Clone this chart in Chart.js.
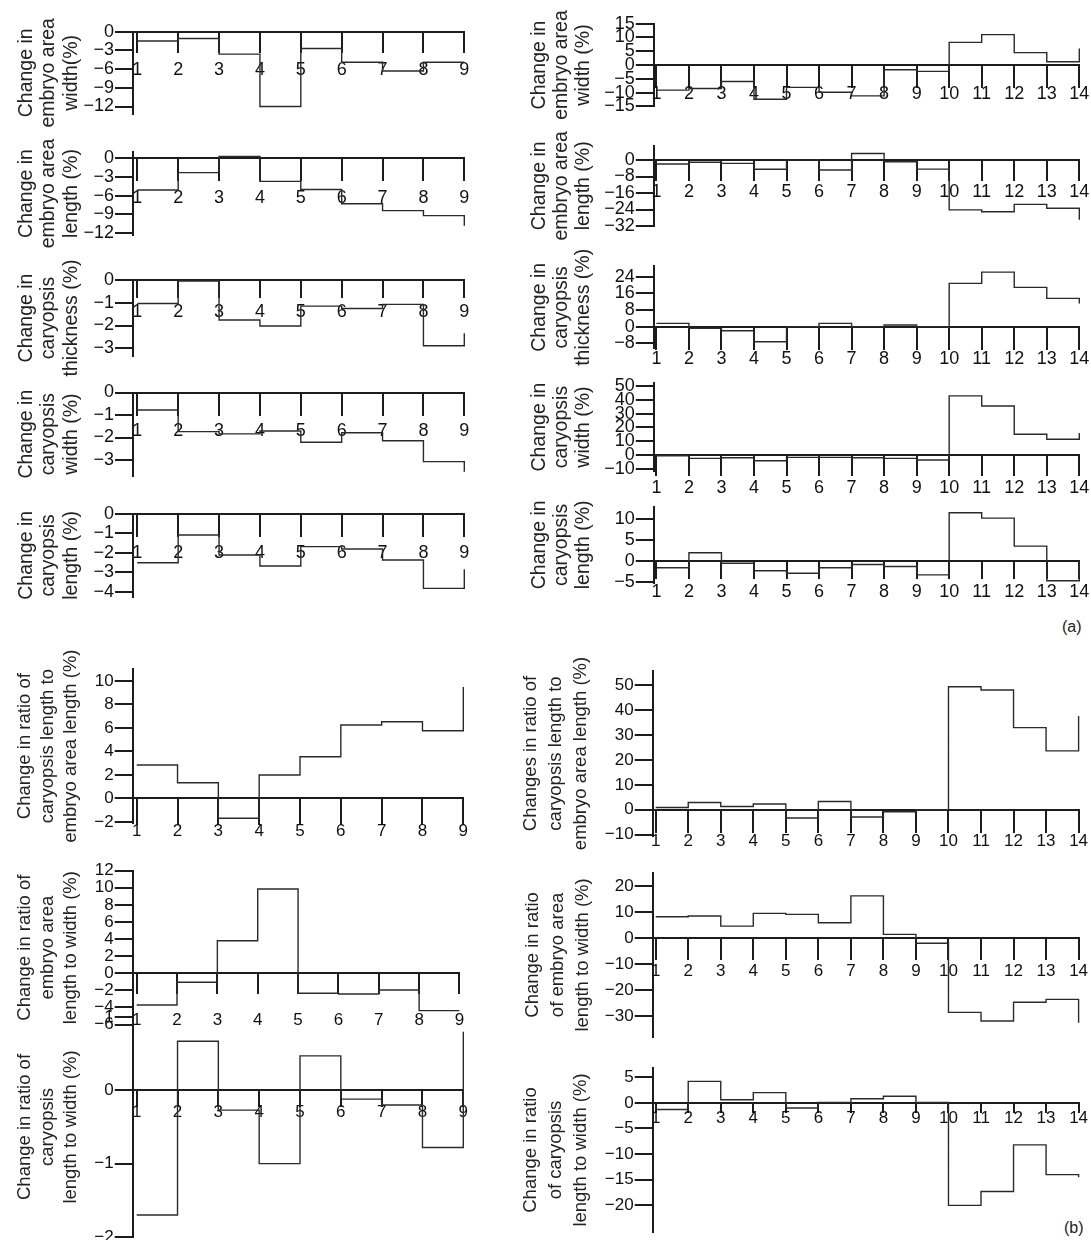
<!DOCTYPE html>
<html>
<head>
<meta charset="utf-8">
<script src="https://cdn.jsdelivr.net/npm/chart.js@4.4.1/dist/chart.umd.min.js"></script>
<style>
  html, body { margin: 0; padding: 0; background: #fff; overflow: hidden; }
  body { position: relative; width: 1091px; height: 1240px; font-family: "Liberation Sans", Arial, sans-serif; }
  canvas { position: absolute; }
  .tag { position: absolute; font-size: 16px; color: #222; }
</style>
</head>
<body>
<div class="tag" style="left:1062px;top:618px">(a)</div>
<div class="tag" style="left:1064px;top:1219px">(b)</div>
<script>
// stage numbers on the x axes
const stagesA = [1, 2, 3, 4, 5, 6, 7, 8, 9];
const stagesB = [1, 2, 3, 4, 5, 6, 7, 8, 9, 10, 11, 12, 13, 14];

// (a) left column, value held from stage i to i+1, last value = end of line
const embryoWidthA = [-1.5, -1.1, -3.6, -12.0, -2.7, -4.9, -6.3, -4.9, -4.9];
const embryoLengthA = [-5.1, -2.3, 0.3, -3.7, -5.0, -7.3, -8.4, -9.2, -10.8];
const thicknessA = [-1.03, -0.05, -1.76, -2.02, -1.15, -1.25, -1.07, -2.89, -2.34];
const widthA = [-0.78, -1.74, -1.84, -1.71, -2.21, -1.79, -2.14, -3.07, -3.52];
const lengthA = [-2.51, -1.08, -2.11, -2.68, -1.68, -1.8, -2.37, -3.83, -2.85];

// (a) right column
const embryoWidthB = [-9.1, -8.5, -6.0, -12.4, -8.1, -9.9, -11.2, -1.7, -2.3, 8.2, 11.0, 4.5, 1.2, 6.0];
const embryoLengthB = [-1.9, -1.1, -1.6, -4.5, 0, -4.8, 3.2, -0.8, -4.4, -24.2, -25.1, -21.5, -23.4, -29.0];
const thicknessB = [1.6, -0.8, -1.9, -7.2, 0, 1.6, 0, 0.8, 0, 20.8, 26.2, 18.9, 13.6, 11.2];
const widthB = [-0.5, -2.4, -2.0, -4.1, -1.7, -1.7, -2.0, -2.4, -3.6, 42.8, 35.5, 15.0, 11.4, 16.0];
const lengthB = [-1.7, 1.9, -0.6, -2.4, -3.0, -1.7, -0.9, -1.4, -3.4, 11.5, 10.2, 3.5, -4.8, 0];

// (b) ratios
const ratioLenEmbryoA = [2.84, 1.33, -1.7, 1.99, 3.55, 6.25, 6.53, 5.76, 9.5];
const ratioEmbryoLWA = [-3.7, -1.05, 3.8, 9.86, -2.34, -2.42, -1.95, -4.37, -4.37];
const ratioCaryLWA = [-1.7, 0.67, -0.27, -1.0, 0.47, -0.12, -0.2, -0.78, 0.8];
const ratioLenEmbryoB = [0.9, 2.9, 1.3, 2.3, -3.3, 3.3, -2.9, -0.8, 0, 49.3, 48.0, 32.9, 23.6, 37.6];
const ratioEmbryoLWB = [8.3, 8.6, 4.7, 9.6, 9.2, 6.0, 16.3, 1.5, -1.9, -28.5, -31.8, -24.6, -23.5, -32.5];
const ratioCaryLWB = [-1.3, 4.2, 0.6, 2.0, -1.0, 0.1, 0.8, 1.3, 0.1, -20.0, -17.3, -8.2, -14.0, -14.5];

// y tick labels
const ticksThree = [0, -3, -6, -9, -12];
const ticksOne3 = [0, -1, -2, -3];
const ticksOne4 = [0, -1, -2, -3, -4];
const ticksFifteen = [15, 10, 5, 0, -5, -10, -15];
const ticksEight = [0, -8, -16, -24, -32];
const ticksThick = [24, 16, 8, 0, -8];
const ticksTen = [50, 40, 30, 20, 10, 0, -10];
const ticksFive = [10, 5, 0, -5];
const ticksTwo = [10, 8, 6, 4, 2, 0, -2];
const ticksTwelve = [12, 10, 8, 6, 4, 2, 0, -2, -4, -6];
const ticksTwenty = [20, 10, 0, -10, -20, -30];
const ticksUnit = [1, 0, -1, -2];
const ticksFiveB = [5, 0, -5, -10, -15, -20];

const NARROW = "'Liberation Sans Narrow', 'Arial Narrow', 'Liberation Sans', Arial, sans-serif";
const REGULAR = "'Liberation Sans', Arial, sans-serif";
const INK = "#1c1c1c";

const cols = {
  La: { axis: 133, x1: 137.3, xN: 464.3, tickFont: { family: NARROW, size: 18 }, titleSize: 19.5, lh: 22.5 },
  Ra: { axis: 653.8, x1: 656.4, xN: 1079.3, tickFont: { family: NARROW, size: 18 }, titleSize: 19.5, lh: 22 },
  Lb: { axis: 132.7, x1: 136.7, xN: 463.3, tickFont: { family: REGULAR, size: 17 }, titleSize: 18.5, lh: 23.3 },
  Rb: { axis: 652.7, x1: 655.7, xN: 1078.6, tickFont: { family: REGULAR, size: 17 }, titleSize: 18.5, lh: 25 }
};

const panels = [
  { col: "La", xs: stagesA, vals: embryoWidthA, yTicks: ticksThree, title: ["Change in", "embryo area", "width(%)"], top: 31.7, bot: 114, max: 0, min: -13.2, tick: 20, lab: 38, tx: 26 },
  { col: "La", xs: stagesA, vals: embryoLengthA, yTicks: ticksThree, title: ["Change in", "embryo area", "length (%)"], top: 152, bot: 235, max: 1, min: -12.3, tick: 22, lab: 40, tx: 26 },
  { col: "La", xs: stagesA, vals: thicknessA, yTicks: ticksOne3, title: ["Change in", "caryopsis", "thickness (%)"], top: 280, bot: 356, max: 0, min: -3.34, tick: 17, lab: 32, tx: 26 },
  { col: "La", xs: stagesA, vals: widthA, yTicks: ticksOne3, title: ["Change in", "caryopsis", "width (%)"], top: 392.5, bot: 475.8, max: 0, min: -3.7, tick: 22, lab: 39, tx: 26 },
  { col: "La", xs: stagesA, vals: lengthA, yTicks: ticksOne4, title: ["Change in", "caryopsis", "length (%)"], top: 514, bot: 596.7, max: 0, min: -4.26, tick: 22, lab: 39, tx: 26 },

  { col: "Ra", xs: stagesB, vals: embryoWidthB, yTicks: ticksFifteen, title: ["Change in", "embryo area", "width (%)"], top: 23.6, bot: 106.4, max: 15, min: -15, tick: 22, lab: 29, tx: 540 },
  { col: "Ra", xs: stagesB, vals: embryoLengthB, yTicks: ticksEight, title: ["Change in", "embryo area", "length (%)"], top: 145.6, bot: 226, max: 7, min: -32, tick: 20, lab: 32, tx: 540 },
  { col: "Ra", xs: stagesB, vals: thicknessB, yTicks: ticksThick, title: ["Change in", "caryopsis", "thickness (%)"], top: 266.3, bot: 348.4, max: 29, min: -10.4, tick: 22, lab: 32, tx: 540 },
  { col: "Ra", xs: stagesB, vals: widthB, yTicks: ticksTen, title: ["Change in", "caryopsis", "width (%)"], top: 383.2, bot: 470.9, max: 52, min: -11.5, tick: 20, lab: 33, tx: 540 },
  { col: "Ra", xs: stagesB, vals: lengthB, yTicks: ticksFive, title: ["Change in", "caryopsis", "length (%)"], top: 506.5, bot: 583.2, max: 13, min: -5.4, tick: 17, lab: 31, tx: 540 },

  { col: "Lb", xs: stagesA, vals: ratioLenEmbryoA, yTicks: ticksTwo, title: ["Change in ratio of", "caryopsis length to", "embryo area length (%)"], top: 669.3, bot: 823, max: 11, min: -2.1, tick: 26, lab: 33, tx: 25 },
  { col: "Lb", xs: stagesA, vals: ratioEmbryoLWA, yTicks: ticksTwelve, title: ["Change in ratio of", "embryo area", "length to width (%)"], top: 870.7, bot: 1024.6, max: 12, min: -6, tick: 20, lab: 47, tx: 25 },
  { col: "Lb", xs: stagesA, vals: ratioCaryLWA, yTicks: ticksUnit, title: ["Change in ratio of", "caryopsis", "length to width (%)"], top: 1017, bot: 1237, max: 1, min: -2, tick: 16, lab: 22, tx: 25 },

  { col: "Rb", xs: stagesB, vals: ratioLenEmbryoB, yTicks: ticksTen, title: ["Changes in ratio of", "caryopsis length to", "embryo area length (%)"], top: 671, bot: 836, max: 55.6, min: -10.5, tick: 22, lab: 32, tx: 530 },
  { col: "Rb", xs: stagesB, vals: ratioEmbryoLWB, yTicks: ticksTwenty, title: ["Change in ratio", "of embryo area", "length to width (%)"], top: 873.3, bot: 1036.6, max: 25, min: -37.8, tick: 21, lab: 33, tx: 532 },
  { col: "Rb", xs: stagesB, vals: ratioCaryLWB, yTicks: ticksFiveB, title: ["Change in ratio", "of caryopsis", "length to width (%)"], top: 1068, bot: 1232, max: 6.8, min: -25.2, tick: 9, lab: 15, tx: 530 }
];

function minusLabel(v) {
  return v < 0 ? "\u2212" + Math.abs(v) : String(v);
}

function drawPanel(p) {
  const c = cols[p.col];
  const n = p.xs.length;
  const left = Math.round(p.tx - c.lh / 2 - 2);
  const top = Math.round(p.top - 50);
  const padTop = p.top - top;
  const height = Math.round(p.bot - top + 60);
  const padBottom = height - (p.bot - top);
  const width = Math.round(c.xN - left + 18);
  const padRight = width - (c.xN - left);
  const yAxisWidth = c.axis - left;
  const perStage = (c.xN - c.x1) / (n - 1);
  const xMin = 1 - (c.x1 - c.axis) / perStage;

  const canvas = document.createElement("canvas");
  canvas.width = width;
  canvas.height = height;
  canvas.style.left = left + "px";
  canvas.style.top = top + "px";
  document.body.appendChild(canvas);

  new Chart(canvas, {
    type: "line",
    data: {
      datasets: [{
        data: p.xs.map((x, i) => ({ x: x, y: p.vals[i] })),
        stepped: "before",
        borderColor: "#2b2b2b",
        borderWidth: 1.4,
        pointRadius: 0,
        fill: false,
        clip: false
      }]
    },
    options: {
      responsive: false,
      animation: false,
      events: [],
      layout: { padding: { top: padTop, bottom: padBottom, left: 0, right: padRight } },
      plugins: { legend: { display: false }, tooltip: { enabled: false } },
      scales: {
        y: {
          type: "linear",
          position: "left",
          min: p.min,
          max: p.max,
          afterFit: (s) => { s.width = yAxisWidth; },
          afterBuildTicks: (s) => { s.ticks = p.yTicks.map((v) => ({ value: v })); },
          grid: { drawOnChartArea: false, color: INK, lineWidth: 2, tickLength: 18 },
          border: { color: INK, width: 2 },
          ticks: { color: "#111", padding: 1, autoSkip: false, font: c.tickFont, callback: minusLabel },
          title: {
            display: true,
            text: p.title,
            color: "#222",
            font: { family: REGULAR, size: c.titleSize, lineHeight: c.lh + "px" },
            padding: { top: 2, bottom: 0 }
          }
        },
        x: {
          type: "linear",
          position: { y: 0 },
          min: xMin,
          max: n,
          afterBuildTicks: (s) => { s.ticks = p.xs.map((v) => ({ value: v })); },
          grid: { drawOnChartArea: false, color: INK, lineWidth: 2, tickLength: p.tick },
          border: { color: INK, width: 2 },
          ticks: {
            color: "#111",
            autoSkip: false,
            maxRotation: 0,
            padding: p.lab - p.tick - c.tickFont.size * 0.6,
            font: c.tickFont,
            callback: (v) => String(v)
          }
        }
      }
    }
  });
}

panels.forEach(drawPanel);
</script>
</body>
</html>
